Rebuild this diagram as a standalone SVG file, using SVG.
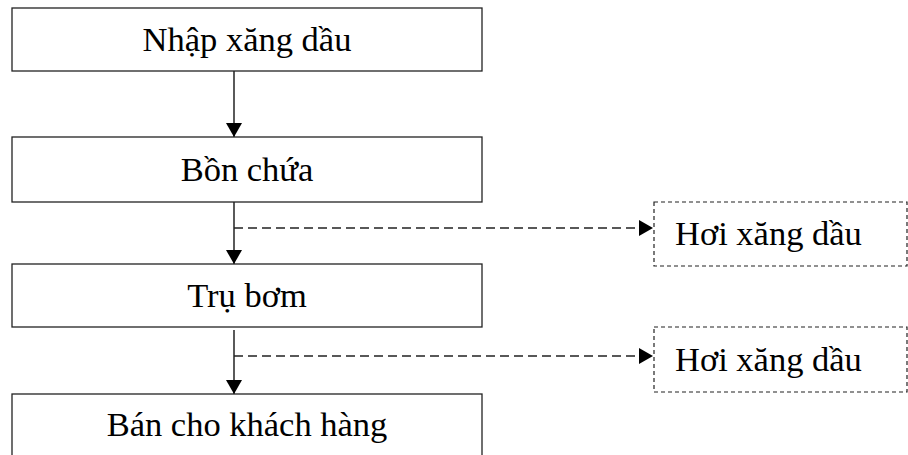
<svg xmlns="http://www.w3.org/2000/svg" width="908" height="455" viewBox="0 0 908 455">
<style>
.box{fill:#fff;stroke:#222;stroke-width:1.3}
.dbox{fill:#fff;stroke:#222;stroke-width:1.2;stroke-dasharray:4 3}
.t{font-family:"Liberation Serif","Times New Roman",serif;font-size:34.5px;fill:#000}
.c{text-anchor:middle}
.solid{stroke:#000;stroke-width:1.3;fill:none}
.dash{stroke:#222;stroke-width:1.3;fill:none;stroke-dasharray:9 5}
</style>
<defs>
<marker id="ah" viewBox="0 0 14 16" refX="14" refY="8" markerWidth="14" markerHeight="16" markerUnits="userSpaceOnUse" orient="auto">
<path d="M0,0 L14,8 L0,16 Z" fill="#000"/>
</marker>
</defs>
<g id="connectors">
<line class="solid" x1="234" y1="71" x2="234" y2="137" marker-end="url(#ah)"/>
<line class="solid" x1="234" y1="202" x2="234" y2="264" marker-end="url(#ah)"/>
<line class="solid" x1="234" y1="330" x2="234" y2="394" marker-end="url(#ah)"/>
<line class="dash" x1="234" y1="228" x2="653" y2="228" marker-end="url(#ah)"/>
<line class="dash" x1="234" y1="356" x2="653" y2="356" marker-end="url(#ah)"/>
</g>
<g id="n1">
<rect class="box" x="12" y="8" width="470" height="63"/>
<text class="t c" x="247" y="51">Nhập xăng dầu</text>
</g>
<g id="n2">
<rect class="box" x="12" y="137" width="470" height="65"/>
<text class="t c" x="247" y="181">Bồn chứa</text>
</g>
<g id="n3">
<rect class="box" x="12" y="264" width="470" height="63"/>
<text class="t c" x="247" y="307">Trụ bơm</text>
</g>
<g id="n4">
<rect class="box" x="12" y="394" width="470" height="66"/>
<text class="t c" x="247" y="436">Bán cho khách hàng</text>
</g>
<g id="v1">
<rect class="dbox" x="654" y="202" width="253" height="64"/>
<text class="t" x="675" y="245">Hơi xăng dầu</text>
</g>
<g id="v2">
<rect class="dbox" x="654" y="327" width="253" height="65"/>
<text class="t" x="675" y="371">Hơi xăng dầu</text>
</g>
</svg>
